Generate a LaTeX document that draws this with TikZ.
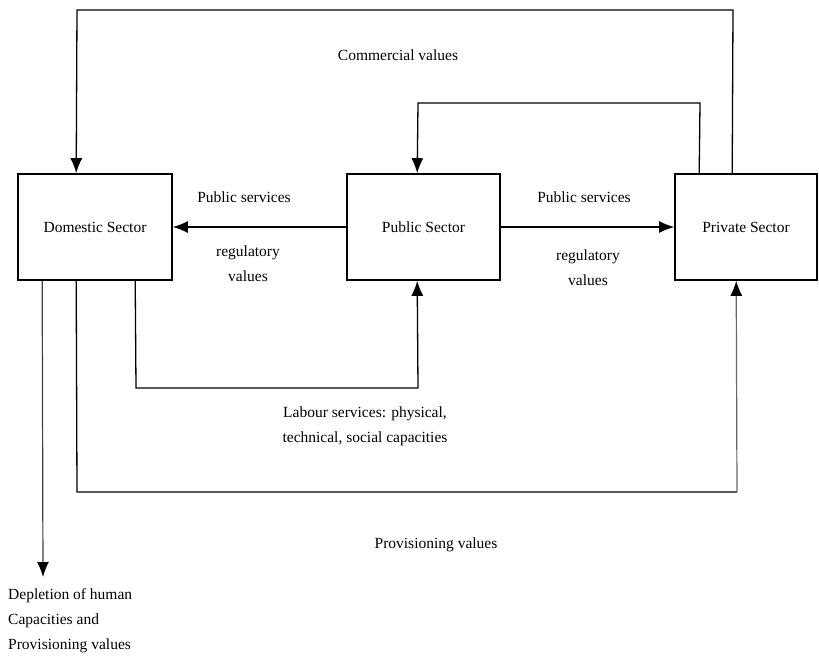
\documentclass[tikz,border=0pt]{standalone}
\usepackage{fontspec}
\setmainfont{Liberation Serif}
\usetikzlibrary{arrows.meta}
\begin{document}
\begin{tikzpicture}[x=1pt,y=-1pt,
  box/.style={draw,line width=1.6pt,minimum height=106pt,inner sep=0pt,font=\fontsize{15.5}{18}\selectfont},
  arr/.style={line width=1.3pt,-{Latex[length=15pt,width=12pt]}},
  garr/.style={line width=1.2pt,draw=black!60,-{Latex[length=15pt,width=12pt,fill=black,color=black]}},
  lbl/.style={font=\fontsize{15.5}{25}\selectfont,inner sep=0pt,align=center}]
\useasboundingbox (0,0) rectangle (819,662);
\node[box,minimum width=154pt] (dom) at (95,227) {Domestic Sector};
\node[box,minimum width=153pt] (pub) at (423.5,227) {Public Sector};
\node[box,minimum width=142pt] (pri) at (746,227) {Private Sector};
% commercial loop
\coordinate (c1) at (733,10);
\coordinate (c2) at (77,10);
\draw[arr] ([xshift=58pt]pri.north west) -- (c1) -- (c2) -- ([xshift=59pt]dom.north west);
% private to public top
\coordinate (p1) at (700,103);
\coordinate (p2) at (418,103);
\draw[arr] ([xshift=25pt]pri.north west) -- (p1) -- (p2) -- ([xshift=71pt]pub.north west);
% public services arrows
\draw[arr] (pub.west) -- (dom.east);
\draw[arr] (pub.east) -- (pri.west);
% labour services
\coordinate (l1) at (136,388);
\coordinate (l2) at (418,388);
\draw[arr] ([xshift=118pt]dom.south west) -- (l1) -- (l2) -- ([xshift=71pt]pub.south west);
% provisioning
\coordinate (v1) at (77,492);
\coordinate (v2) at (737,492);
\draw[line width=1.3pt] ([xshift=59pt]dom.south west) -- (v1) -- (v2);
\draw[garr] (v2) -- ([xshift=62pt]pri.south west);
% depletion
\coordinate (d1) at (43,577);
\draw[garr,draw=black!75] ([xshift=25pt]dom.south west) -- (d1);
% labels
\node[lbl] (tcomm) at (398,55) {Commercial values};
\node[lbl] (tps1) at (244,197) {Public services};
\node[lbl] (trv1) at (248,264) {regulatory\\values};
\node[lbl] (tps2) at (584,197) {Public services};
\node[lbl] (trv2) at (588,268) {regulatory\\values};
\node[lbl] (tlab) at (365,426) {Labour services: physical,\\technical, social capacities};
\node[lbl] (tprov) at (436,545) {Provisioning values};
\node[lbl,align=left,anchor=north west] (tdep) at (8,588) {Depletion of human\\Capacities and\\Provisioning values};
\end{tikzpicture}
\end{document}
